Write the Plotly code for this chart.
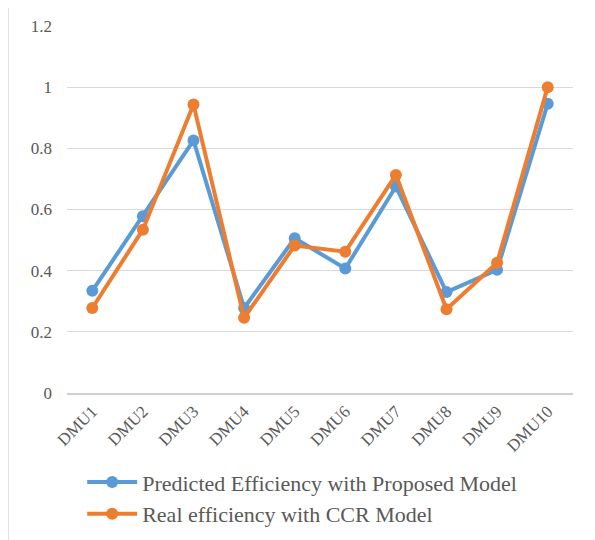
import plotly.graph_objects as go

categories = ["DMU1", "DMU2", "DMU3", "DMU4", "DMU5", "DMU6", "DMU7", "DMU8", "DMU9", "DMU10"]
predicted = [0.334, 0.578, 0.826, 0.278, 0.506, 0.407, 0.675, 0.330, 0.403, 0.946]
real = [0.278, 0.534, 0.943, 0.246, 0.482, 0.462, 0.713, 0.274, 0.426, 1.0]
y_ticks = [0, 0.2, 0.4, 0.6, 0.8, 1, 1.2]
y_tick_labels = ["0", "0.2", "0.4", "0.6", "0.8", "1", "1.2"]

BLUE = "#5B9BD5"
ORANGE = "#ED7D31"
TEXT = "#595959"
FONT = "Liberation Serif, Times New Roman, serif"

fig = go.Figure()
fig.add_trace(go.Scatter(
    x=categories, y=predicted, mode="lines+markers",
    name="Predicted Efficiency with Proposed Model",
    line=dict(color=BLUE, width=4), marker=dict(color=BLUE, size=12),
))
fig.add_trace(go.Scatter(
    x=categories, y=real, mode="lines+markers",
    name="Real efficiency with CCR Model",
    line=dict(color=ORANGE, width=4), marker=dict(color=ORANGE, size=12),
))

fig.update_layout(
    width=587, height=532,
    margin=dict(l=59, r=22, t=18, b=147),
    paper_bgcolor="white", plot_bgcolor="white",
    font=dict(family=FONT, color=TEXT, size=16),
    showlegend=True,
    legend=dict(
        orientation="v", x=0.03, xanchor="left",
        yref="container", y=0.148, yanchor="top",
        font=dict(family=FONT, size=22, color=TEXT),
        tracegroupgap=0, itemwidth=50,
        bgcolor="rgba(0,0,0,0)",
    ),
    xaxis=dict(
        type="category", tickangle=-45, showgrid=False,
        showline=True, linecolor="#D0D0D0", linewidth=1.5,
        ticks="", tickfont=dict(family=FONT, size=17, color=TEXT),
        range=[-0.5, 9.5], automargin=False,
    ),
    yaxis=dict(
        range=[0, 1.2], tickvals=y_ticks, ticktext=y_tick_labels,
        showgrid=True, gridcolor="#D9D9D9", gridwidth=1,
        zeroline=False, showline=False, ticks="",
        ticklabelstandoff=14, automargin=False,
        tickfont=dict(family=FONT, size=17, color=TEXT),
    ),
    shapes=[dict(
        type="rect", xref="paper", yref="paper",
        x0=(8 - 67) / 506, x1=(593 - 67) / 506,
        y0=-0.5, y1=(393 - 4) / 367,
        line=dict(color="#D9D9D9", width=1.5), fillcolor="rgba(0,0,0,0)",
        layer="below",
    )],
)

fig.write_html("out.html")
